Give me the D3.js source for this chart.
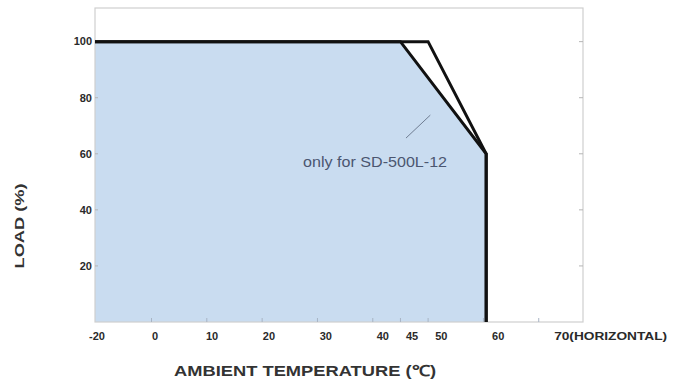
<!DOCTYPE html>
<html>
<head>
<meta charset="utf-8">
<script src="https://cdn.jsdelivr.net/npm/d3@7"></script>
<style>
  body { margin: 0; background: #fff; }
  svg { display: block; font-family: "Liberation Sans", Arial, sans-serif; }
</style>
</head>
<body>
<svg id="chart" width="674" height="385"></svg>
<script>
// derating curves (ambient temp C -> load %)
const tempTicks = [-20, 0, 10, 20, 30, 40, 45, 50, 60, 70];
const loadTicks = [20, 40, 60, 80, 100];
const standardCurve = [[-20, 100], [45, 100], [60.5, 60], [60.5, 0]];
const sd500l12Curve = [[-20, 100], [50, 100], [60.5, 60], [60.5, 0]];
const noteText = "only for SD-500L-12";

const margin = { top: 8, right: 91, bottom: 63, left: 95 };
const width = 674 - margin.left - margin.right,
    height = 385 - margin.top - margin.bottom;

const svg = d3.select("#chart");
const g = svg.append("g").attr("transform", "translate(" + margin.left + "," + margin.top + ")");

// -20 sits one step left of 0, so the axis is piecewise
const x = d3.scaleLinear().domain([-20, 0, 78]).range([0, 56.5, width]);
const y = d3.scaleLinear().domain([0, 112]).range([height, 0]);

// shaded area under the standard curve
const area = d3.area()
    .x(d => x(d[0]))
    .y0(height)
    .y1(d => y(d[1]));
g.append("path")
    .datum(standardCurve)
    .attr("d", area)
    .attr("fill", "#c9dcf0");

// frame
g.append("rect")
    .attr("width", width)
    .attr("height", height)
    .attr("fill", "none")
    .attr("stroke", "#cfcfcf")
    .attr("stroke-width", 1.2);

// x ticks (inside, pointing up)
g.append("g")
    .selectAll("line")
    .data(tempTicks.filter(d => d > -20))
    .enter().append("line")
    .attr("x1", d => x(d)).attr("x2", d => x(d))
    .attr("y1", height).attr("y2", height - 4)
    .attr("stroke", "#a8b4c4")
    .attr("stroke-width", 1);

const xLabels = g.append("g")
    .selectAll("text")
    .data(tempTicks)
    .enter().append("text")
    .attr("x", (d, i) => x(d) + 2 + i * 1.6)
    .attr("y", height + 18)
    .attr("text-anchor", d => d === 70 ? "start" : "middle")
    .attr("dx", d => d === 70 ? -1 : 0)
    .attr("font-size", 11)
    .attr("font-weight", 600)
    .attr("fill", "#2a2a2a")
    .text(d => d === 70 ? "70(HORIZONTAL)" : d);
xLabels.filter(d => d === 70)
    .attr("textLength", 113)
    .attr("lengthAdjust", "spacingAndGlyphs");

// y ticks on both sides
[0, width].forEach(function (side) {
    g.append("g")
        .selectAll("line")
        .data(loadTicks)
        .enter().append("line")
        .attr("x1", side).attr("x2", side === 0 ? 3 : side - 4)
        .attr("y1", d => y(d)).attr("y2", d => y(d))
        .attr("stroke", "#b5b5b5");
});

g.append("g")
    .selectAll("text")
    .data(loadTicks)
    .enter().append("text")
    .attr("x", -3)
    .attr("y", d => y(d))
    .attr("dy", "0.35em")
    .attr("text-anchor", "end")
    .attr("font-size", 11)
    .attr("font-weight", 600)
    .attr("fill", "#2a2a2a")
    .text(d => d);

// curves
const line = d3.line().x(d => x(d[0])).y(d => y(d[1]));
g.append("path")
    .datum(sd500l12Curve)
    .attr("d", line)
    .attr("fill", "none")
    .attr("stroke", "#111")
    .attr("stroke-width", 3)
    .attr("stroke-linejoin", "miter");
g.append("path")
    .datum(standardCurve)
    .attr("d", line)
    .attr("fill", "none")
    .attr("stroke", "#111")
    .attr("stroke-width", 3)
    .attr("stroke-linejoin", "miter");

// note with pointer
g.append("line")
    .attr("x1", x(46)).attr("y1", y(65.6))
    .attr("x2", x(50.4)).attr("y2", y(73.8))
    .attr("stroke", "#6f7d92")
    .attr("stroke-width", 1);
g.append("text")
    .attr("x", x(27.4))
    .attr("y", y(55.3))
    .attr("font-size", 14)
    .attr("textLength", 144)
    .attr("lengthAdjust", "spacingAndGlyphs")
    .attr("fill", "#4b5670")
    .text(noteText);

// axis titles
svg.append("text")
    .attr("transform", "translate(24,226) rotate(-90)")
    .attr("text-anchor", "middle")
    .attr("font-size", 13)
    .attr("font-weight", "bold")
    .attr("fill", "#333")
    .attr("textLength", 85)
    .attr("lengthAdjust", "spacingAndGlyphs")
    .text("LOAD (%)");

svg.append("text")
    .attr("x", 174)
    .attr("y", 376)
    .attr("font-size", 15)
    .attr("font-weight", "bold")
    .attr("fill", "#333")
    .attr("textLength", 262)
    .attr("lengthAdjust", "spacingAndGlyphs")
    .text("AMBIENT TEMPERATURE (℃)");
</script>
</body>
</html>
